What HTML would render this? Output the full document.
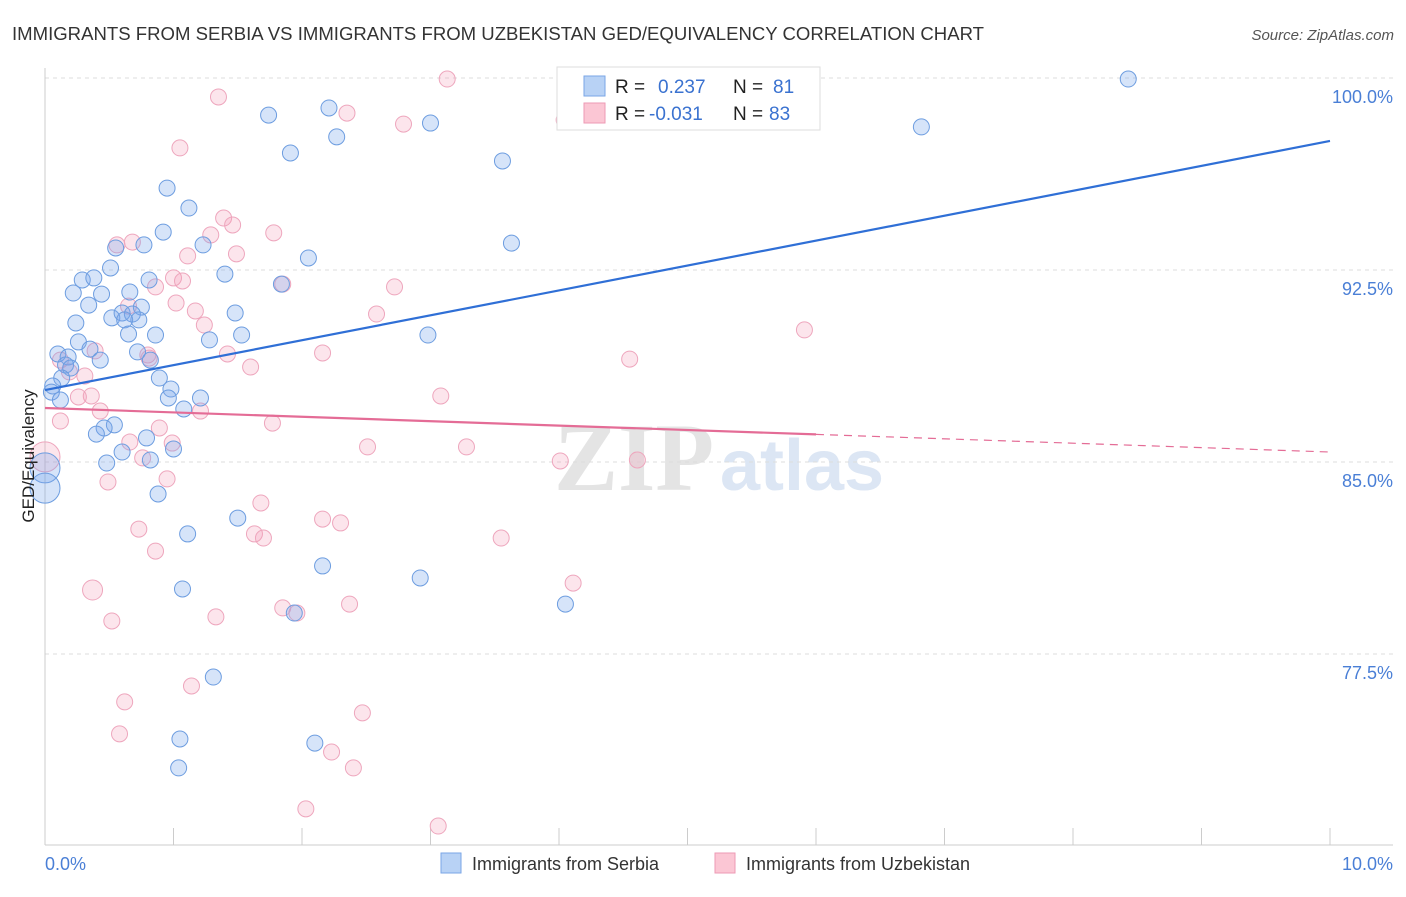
<!DOCTYPE html>
<html><head><meta charset="utf-8"><style>
body{margin:0;background:#fff;font-family:"Liberation Sans",sans-serif;}
</style></head><body>
<svg id="chart" width="1406" height="892" xmlns="http://www.w3.org/2000/svg">
<text x="12" y="40" font-size="18" fill="#333" textLength="972" lengthAdjust="spacingAndGlyphs">IMMIGRANTS FROM SERBIA VS IMMIGRANTS FROM UZBEKISTAN GED/EQUIVALENCY CORRELATION CHART</text>
<text x="1394" y="40" font-size="15" fill="#555" text-anchor="end" font-style="italic">Source: ZipAtlas.com</text>
<text x="634" y="490" font-size="96" fill="#e4e4e4" text-anchor="middle" font-family="Liberation Serif" font-weight="bold">ZIP</text>
<text x="802" y="490" font-size="72" fill="#dce6f4" text-anchor="middle" font-weight="bold">atlas</text>
<g id="grid"></g>
<g id="marks"></g>
<text transform="translate(34,456) rotate(-90)" font-size="17" fill="#222" text-anchor="middle">GED/Equivalency</text>
<text x="45" y="870" font-size="18" fill="#4a7fd6">0.0%</text>
<text x="1393" y="870" font-size="18" fill="#4a7fd6" text-anchor="end">10.0%</text>
<g>
<rect x="557" y="67" width="263" height="63" fill="#fff" stroke="#ddd"/>
<rect x="584" y="76" width="21" height="20" fill="#b8d2f5" stroke="#7aa6e6"/>
<rect x="584" y="103" width="21" height="20" fill="#fbc6d4" stroke="#ee9ab4"/>
<text x="615" y="93" font-size="19" fill="#222">R = </text><text x="658" y="93" font-size="19" fill="#3a72d0">0.237</text>
<text x="733" y="93" font-size="19" fill="#222">N = </text><text x="773" y="93" font-size="19" fill="#3a72d0">81</text>
<text x="615" y="120" font-size="19" fill="#222">R = </text><text x="649" y="120" font-size="19" fill="#3a72d0">-0.031</text>
<text x="733" y="120" font-size="19" fill="#222">N = </text><text x="769" y="120" font-size="19" fill="#3a72d0">83</text>
</g>
<g>
<rect x="441" y="853" width="20" height="20" fill="#b8d2f5" stroke="#7aa6e6"/>
<text x="472" y="870" font-size="18" fill="#333">Immigrants from Serbia</text>
<rect x="715" y="853" width="20" height="20" fill="#fbc6d4" stroke="#ee9ab4"/>
<text x="746" y="870" font-size="18" fill="#333">Immigrants from Uzbekistan</text>
</g>
</svg>
<script>
const yTicks=[100,92.5,85,77.5];
const yTickLabels=["100.0%","92.5%","85.0%","77.5%"];
const serbiaX=[8.43,6.82,1.74,2.21,2.27,3.00,1.91,3.56,0.95,1.12,0.92,0.55,0.77,1.23,3.63,2.05,0.51,1.40,0.29,0.38,0.81,1.84,0.22,0.44,0.66,0.34,0.75,0.52,0.60,0.68,0.73,0.62,1.48,0.24,0.65,0.86,1.53,1.28,2.98,0.26,0.35,0.72,0.10,0.18,0.43,0.82,0.16,0.20,0.13,0.89,0.06,0.98,0.05,0.96,1.21,0.12,1.08,0.54,0.46,0.40,0.79,0.60,1.00,0.82,0.48,0.00,0.00,0.88,1.50,1.11,2.16,2.92,1.07,4.05,1.94,1.31,1.05,1.04,2.10];
const serbiaY=[99.96,98.09,98.55,98.83,97.70,98.24,97.07,96.76,95.70,94.92,93.98,93.36,93.48,93.48,93.55,92.97,92.58,92.34,92.11,92.19,92.11,91.95,91.60,91.56,91.64,91.13,91.05,90.63,90.82,90.78,90.55,90.55,90.82,90.43,90.00,89.96,89.96,89.77,89.96,89.69,89.41,89.30,89.22,89.10,88.98,88.98,88.79,88.67,88.28,88.28,87.97,87.85,87.73,87.50,87.50,87.42,87.07,86.45,86.33,86.09,85.94,85.39,85.51,85.08,84.96,84.77,83.98,83.75,82.81,82.19,80.94,80.47,80.04,79.45,79.10,76.60,74.18,73.05,74.02];
const uzbekX=[3.13,1.35,2.35,2.79,4.04,1.05,1.39,1.46,1.78,1.29,0.56,0.68,1.49,1.11,1.00,1.07,0.86,1.85,2.72,1.02,1.17,0.65,2.58,1.24,5.91,0.39,0.80,1.42,2.16,4.55,0.12,0.81,1.60,0.19,0.31,3.08,0.36,0.26,1.21,0.43,0.12,1.77,0.89,0.66,0.99,2.51,3.28,0.00,0.76,4.01,4.61,0.49,0.95,1.68,2.16,2.30,0.73,1.63,1.70,3.55,0.86,4.11,0.37,2.37,1.85,1.96,1.33,0.52,1.14,0.62,2.47,0.58,2.23,2.40,2.03,3.06];
const uzbekY=[99.96,99.26,98.63,98.20,98.36,97.27,94.53,94.26,93.95,93.87,93.48,93.59,93.13,93.05,92.19,92.07,91.84,91.95,91.84,91.21,90.90,91.09,90.78,90.35,90.16,89.34,89.18,89.22,89.26,89.02,88.98,89.06,88.71,88.52,88.36,87.58,87.58,87.54,86.99,86.99,86.60,86.52,86.33,85.78,85.74,85.59,85.59,85.20,85.16,85.04,85.08,84.22,84.34,83.40,82.77,82.62,82.38,82.19,82.03,82.03,81.52,80.27,80.00,79.45,79.30,79.10,78.95,78.79,76.25,75.63,75.20,74.38,73.67,73.05,71.45,70.78];
const serbiaTrend=[87.81,97.54];
const uzbekTrend=[87.11,85.39];
const NS="http://www.w3.org/2000/svg";
const xs=v=>45+v*128.5, ys=v=>78+(100-v)*25.6;
const grid=document.getElementById('grid'), marks=document.getElementById('marks');
function mk(tag,attrs,parent){const e=document.createElementNS(NS,tag);for(const k in attrs)e.setAttribute(k,attrs[k]);parent.appendChild(e);return e;}
yTicks.forEach((t,i)=>{
 const l=mk('line',{x1:45,x2:1393,y1:ys(t),y2:ys(t),stroke:'#ddd','stroke-dasharray':'4,4'},grid);
 
 
 const tx=mk('text',{x:1393,y:ys(t)+25,'font-size':18,fill:'#4a7fd6','text-anchor':'end'},grid);
 tx.textContent=yTickLabels[i];
 
 
});
const ax=mk('line',{x1:45,x2:45,y1:68,y2:845,stroke:'#ccc'},grid);


const bx=mk('line',{x1:45,x2:1393,y1:845,y2:845,stroke:'#ccc'},grid);


for(let i=1;i<=10;i++){const t=mk('line',{x1:xs(i),x2:xs(i),y1:828,y2:845,stroke:'#ccc'},grid);
 
 }
function pts(X,Y,fill,stroke,name){X.forEach((x,i)=>{
 const big=(x===0)?15:(name==='uzbekistan-point'&&x===0.37?10:8);
 const c=mk('circle',{cx:xs(x),cy:ys(Y[i]),r:big,fill:fill,stroke:stroke,'stroke-width':1},marks);
 
 
});}
pts(uzbekX,uzbekY,'rgba(245,150,180,0.25)','#eea6bd','uzbekistan-point');
pts(serbiaX,serbiaY,'rgba(120,165,235,0.3)','#6d9de0','serbia-point');
const sl=mk('line',{x1:xs(0),y1:ys(serbiaTrend[0]),x2:xs(10),y2:ys(serbiaTrend[1]),stroke:'#2f6fd6','stroke-width':2.2},marks);


const m=uzbekTrend[0]+(uzbekTrend[1]-uzbekTrend[0])*0.6;
const ul=mk('line',{x1:xs(0),y1:ys(uzbekTrend[0]),x2:xs(6),y2:ys(m),stroke:'#e46c96','stroke-width':2.2},marks);


const ud=mk('line',{x1:xs(6),y1:ys(m),x2:xs(10),y2:ys(uzbekTrend[1]),stroke:'#e46c96','stroke-width':1.2,'stroke-dasharray':'8,6'},marks);


</script>
</body></html>
